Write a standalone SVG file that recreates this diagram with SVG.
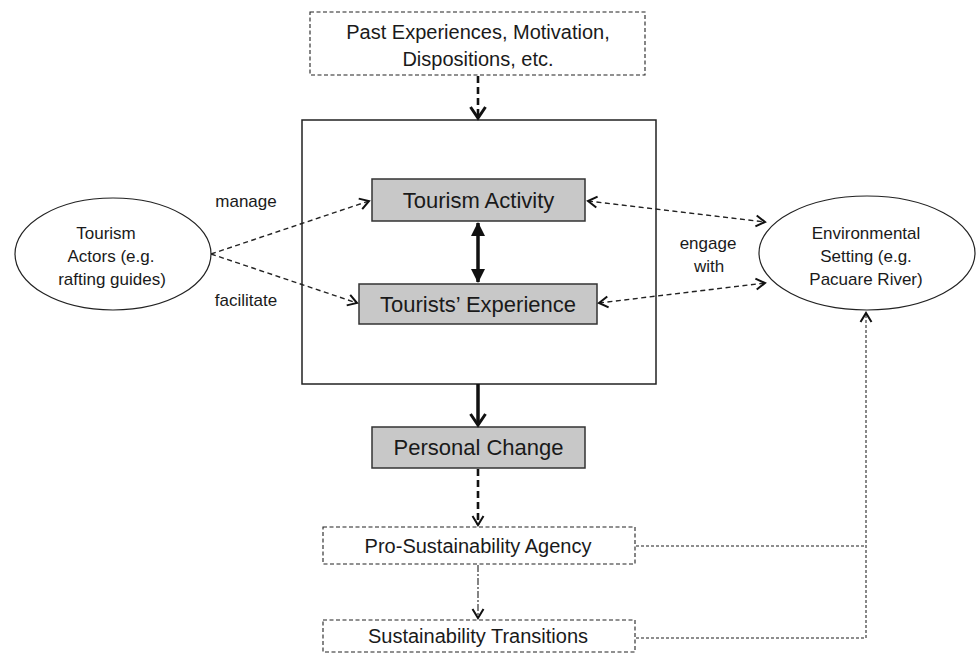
<svg xmlns="http://www.w3.org/2000/svg" width="976" height="657" viewBox="0 0 976 657">
<style>
text{font-family:"Liberation Sans",Arial,sans-serif;fill:#1a1a1a;text-anchor:middle}
.dbox{fill:#fff;stroke:#222;stroke-width:1.1;stroke-dasharray:4 2.5}
.gbox{fill:#c8c8c8;stroke:#333;stroke-width:1.5}
.ell{fill:#fff;stroke:#222;stroke-width:1.2}
.lnk{fill:none;stroke:#222;stroke-width:1.4;stroke-dasharray:5 3.5}
.grey{fill:none;stroke:#6a6a6a;stroke-width:1.6;stroke-dasharray:3 2}
.t20{font-size:20px}.t22{font-size:22px}.t17{font-size:17px}
</style>
<defs>
<marker id="chev" markerUnits="userSpaceOnUse" viewBox="0 0 14 14" markerWidth="14" markerHeight="14" refX="12" refY="7" orient="auto-start-reverse">
<path d="M3,1.5 L12,7 L3,12.5" fill="none" stroke="#111" stroke-width="2" stroke-dasharray="none"/>
</marker>
<marker id="chevB" markerUnits="userSpaceOnUse" viewBox="0 0 18 18" markerWidth="18" markerHeight="18" refX="15" refY="9" orient="auto">
<path d="M4,1.5 L15,9 L4,16.5" fill="none" stroke="#111" stroke-width="3" stroke-dasharray="none"/>
</marker>
<marker id="tri" markerUnits="userSpaceOnUse" viewBox="0 0 16 16" markerWidth="16" markerHeight="16" refX="14" refY="8" orient="auto-start-reverse">
<path d="M1,1 L15,8 L1,15 Z" fill="#111" stroke="none"/>
</marker>
</defs>

<g id="past">
<rect class="dbox" x="310" y="12" width="335" height="63"/>
<text class="t20" x="478" y="39">Past Experiences, Motivation,</text>
<text class="t20" x="478" y="66">Dispositions, etc.</text>
</g>

<g id="context">
<rect x="302" y="120" width="354" height="264" fill="#fff" stroke="#222" stroke-width="1.5"/>
</g>

<g id="activity">
<rect class="gbox" x="372" y="179" width="213" height="42"/>
<text class="t22" x="478.5" y="208">Tourism Activity</text>
</g>

<g id="experience">
<rect class="gbox" x="359" y="284" width="238" height="40"/>
<text class="t22" x="478" y="312">Tourists’ Experience</text>
</g>

<g id="change">
<rect class="gbox" x="372" y="427" width="213" height="41"/>
<text class="t22" x="478.5" y="455">Personal Change</text>
</g>

<g id="agency">
<rect class="dbox" x="323" y="527" width="312" height="37"/>
<text class="t20" x="478" y="553">Pro-Sustainability Agency</text>
</g>

<g id="transitions">
<rect class="dbox" x="323" y="620" width="312" height="32"/>
<text class="t20" x="478" y="643">Sustainability Transitions</text>
</g>

<g id="actors">
<ellipse class="ell" cx="113" cy="254" rx="98" ry="56"/>
<text class="t17" x="106" y="239">Tourism</text>
<text class="t17" x="111" y="262">Actors (e.g.</text>
<text class="t17" x="112" y="285">rafting guides)</text>
</g>

<g id="environment">
<ellipse class="ell" cx="867" cy="253" rx="108" ry="57"/>
<text class="t17" x="866" y="239">Environmental</text>
<text class="t17" x="866" y="262">Setting (e.g.</text>
<text class="t17" x="866" y="285">Pacuare River)</text>
</g>

<g id="connectors">
<path d="M478,76 V118" fill="none" stroke="#111" stroke-width="2.6" stroke-dasharray="7 4" marker-end="url(#chevB)"/>
<path class="lnk" d="M211,254 L369,201" marker-end="url(#chev)"/>
<path class="lnk" d="M211,254 L357,303" marker-end="url(#chev)"/>
<path class="lnk" d="M588,201 L765,222" marker-start="url(#chev)" marker-end="url(#chev)"/>
<path class="lnk" d="M599,303 L765,283" marker-start="url(#chev)" marker-end="url(#chev)"/>
<path d="M478,223 V282" fill="none" stroke="#111" stroke-width="3.5" marker-start="url(#tri)" marker-end="url(#tri)"/>
<path d="M478,384 V425" fill="none" stroke="#111" stroke-width="3.5" marker-end="url(#chevB)"/>
<path d="M478,469 V525" fill="none" stroke="#111" stroke-width="2.6" stroke-dasharray="7 4" marker-end="url(#chev)"/>
<path d="M478,565 V618" fill="none" stroke="#333" stroke-width="1.2" stroke-dasharray="7 2 2 2" marker-end="url(#chev)"/>
<path class="grey" d="M636,546 H866"/>
<path class="grey" d="M636,638 H866 V313" marker-end="url(#chev)"/>
<text class="t17" x="246" y="207">manage</text>
<text class="t17" x="246" y="306">facilitate</text>
<text class="t17" x="708" y="249">engage</text>
<text class="t17" x="709" y="272">with</text>
</g>
</svg>
